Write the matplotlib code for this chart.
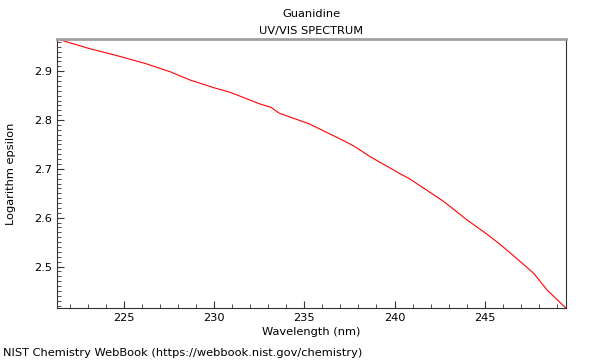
import matplotlib
matplotlib.use("Agg")
import matplotlib.pyplot as plt
from matplotlib.ticker import MultipleLocator

# Spectrum
wavelength = [221.28, 223.11, 224.6, 226.16, 227.55, 228.66, 230.0, 230.87, 231.15,
              232.53, 233.15, 233.61, 235.28, 237.22, 237.78, 238.6, 240.26, 240.82,
              242.7, 244.0, 245.1, 245.87, 246.98, 247.72, 248.46, 249.5]
log_eps = [2.966, 2.946, 2.932, 2.916, 2.899, 2.882, 2.866, 2.857, 2.853,
           2.833, 2.826, 2.814, 2.792, 2.757, 2.746, 2.726, 2.691, 2.680,
           2.634, 2.596, 2.567, 2.545, 2.510, 2.486, 2.452, 2.415]

fs = 8.2

fig = plt.figure(figsize=(6, 3.6), dpi=100)
ax = fig.add_axes([0.095, 0.1444, 0.848, 0.7473])

ax.plot(wavelength, log_eps, color="red", lw=0.8)

ax.set_xlim(221.28, 249.5)
ax.set_ylim(2.415, 2.966)
ax.xaxis.set_major_locator(MultipleLocator(5))
ax.xaxis.set_minor_locator(MultipleLocator(1))
ax.yaxis.set_major_locator(MultipleLocator(0.1))
ax.yaxis.set_minor_locator(MultipleLocator(0.01))
ax.tick_params(which="both", direction="in", labelsize=fs, color="#333333")
ax.tick_params(which="major", length=5)
ax.tick_params(which="minor", length=3)

ax.spines["top"].set_color("#a0a0a0")
ax.spines["top"].set_linewidth(2)
for s in ["left", "bottom", "right"]:
    ax.spines[s].set_color("#333333")

ax.set_xlabel("Wavelength (nm)", fontsize=fs)
ax.set_ylabel("Logarithm epsilon", fontsize=fs)
ax.xaxis.set_label_coords(0.5, -0.07)
ax.yaxis.set_label_coords(-0.08, 0.5)
ax.set_title("Guanidine\nUV/VIS SPECTRUM", fontsize=fs, linespacing=1.9, pad=3.5)

fig.text(0.005, 0.012, "NIST Chemistry WebBook (https://webbook.nist.gov/chemistry)", fontsize=fs)

fig.savefig("out.png", dpi=100)
